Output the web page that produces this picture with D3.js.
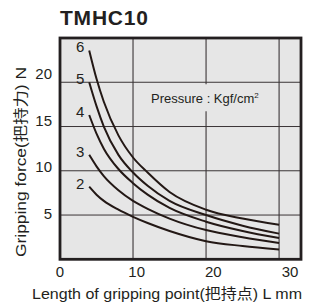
<!DOCTYPE html>
<html>
<head>
<meta charset="utf-8">
<script src="https://cdn.jsdelivr.net/npm/d3@7"></script>
<style>
  body { margin: 0; background: #fff; }
  text { font-family: "Liberation Sans", Arial, "Noto Sans CJK SC", sans-serif; fill: #231f20; }
</style>
</head>
<body>
<div id="chart"></div>
<script>
// Data (L in mm, force in N)
const lengths = [4, 5, 6, 8, 10, 12, 15, 20, 25, 30];
const pressures = [6, 5, 4, 3, 2];
const force6 = [23.6, 20.4, 17.8, 14.0, 11.5, 9.8, 7.6, 5.6, 4.6, 3.9];
const force5 = [20.0, 17.3, 15.0, 11.8, 9.8, 8.3, 6.6, 5.0, 3.8, 2.9];
const force4 = [16.3, 14.2, 12.5, 10.2, 8.6, 7.3, 5.8, 4.25, 3.2, 2.4];
const force3 = [11.8, 10.5, 9.4, 7.8, 6.6, 5.7, 4.6, 3.3, 2.5, 1.85];
const force2 = [8.2, 7.3, 6.6, 5.6, 4.8, 4.1, 3.2, 2.05, 1.5, 1.1];
const xTicks = [0, 10, 20, 30];
const yTicks = [5, 10, 15, 20];

const series = [force6, force5, force4, force3, force2].map((vals, i) => ({
  label: pressures[i],
  points: vals.map((v, j) => [lengths[j], v])
}));

const W = 310, H = 308;
const svg = d3.select("#chart").append("svg")
  .attr("width", W)
  .attr("height", H);

const x = d3.scaleLinear().domain([0, 33]).range([60, 301]);
const y = d3.scaleLinear().domain([0, 25]).range([259.3, 38]);

// tick labels in the original drift slightly from the grid
const xLab = d3.scaleLinear().domain([0, 30]).range([60, 290]);
const yLab = d3.scaleLinear().domain([5, 20]).range([y(5) - 1, y(20) - 8]);

// Title
svg.append("text")
  .attr("x", 60)
  .attr("y", 25)
  .style("font-size", "21px")
  .style("font-weight", "bold")
  .attr("textLength", 88)
  .attr("lengthAdjust", "spacing")
  .text("TMHC10");

// Plot background
svg.append("rect")
  .attr("x", x(0))
  .attr("y", y(25))
  .attr("width", x(33) - x(0))
  .attr("height", y(0) - y(25))
  .attr("fill", "#e6e6e6");

// Grid
const grid = svg.append("g");
grid.selectAll(".vline")
  .data([10, 20, 30])
  .enter().append("line")
  .attr("x1", d => x(d)).attr("x2", d => x(d))
  .attr("y1", y(25)).attr("y2", y(0))
  .attr("stroke", "#2a2426")
  .attr("stroke-width", 1);
grid.selectAll(".hline")
  .data(yTicks)
  .enter().append("line")
  .attr("x1", x(0)).attr("x2", x(33))
  .attr("y1", d => y(d)).attr("y2", d => y(d))
  .attr("stroke", "#3a3436")
  .attr("stroke-width", 1);

// Pressure note (with a box that hides the grid behind it)
svg.append("rect")
  .attr("x", 148)
  .attr("y", y(20) + 2)
  .attr("width", 118)
  .attr("height", 27)
  .attr("fill", "#e6e6e6");
const note = svg.append("text")
  .attr("x", 151)
  .attr("y", 103)
  .style("font-size", "13px");
note.append("tspan").text("Pressure : Kgf/cm");
note.append("tspan")
  .attr("dy", -5)
  .style("font-size", "8px")
  .text("2");

// Curves
const line = d3.line()
  .x(d => x(d[0]))
  .y(d => y(d[1]))
  .curve(d3.curveMonotoneX);

svg.selectAll(".curve")
  .data(series)
  .enter().append("path")
  .attr("d", d => line(d.points))
  .attr("fill", "none")
  .attr("stroke", "#231815")
  .attr("stroke-width", 2);

svg.selectAll(".clabel")
  .data(series)
  .enter().append("text")
  .attr("x", d => x(d.points[0][0]) - 9)
  .attr("y", d => y(d.points[0][1]) + 2)
  .attr("text-anchor", "middle")
  .style("font-size", "15px")
  .text(d => d.label);

// Frame
svg.append("rect")
  .attr("x", x(0))
  .attr("y", y(25))
  .attr("width", x(33) - x(0))
  .attr("height", y(0) - y(25))
  .attr("fill", "none")
  .attr("stroke", "#231f20")
  .attr("stroke-width", 2.8);

// Tick labels
svg.selectAll(".xt")
  .data(xTicks)
  .enter().append("text")
  .attr("x", d => xLab(d))
  .attr("y", 277)
  .attr("text-anchor", "middle")
  .style("font-size", "15px")
  .text(d => d);

svg.selectAll(".yt")
  .data(yTicks)
  .enter().append("text")
  .attr("x", 52)
  .attr("y", d => yLab(d) + 5)
  .attr("text-anchor", "end")
  .style("font-size", "15px")
  .text(d => d);

// Axis titles
svg.append("text")
  .attr("x", 32)
  .attr("y", 299)
  .attr("textLength", 270)
  .attr("lengthAdjust", "spacingAndGlyphs")
  .style("font-size", "14.5px")
  .text("Length of gripping point(把持点) L mm");

svg.append("text")
  .attr("transform", "translate(26,257) rotate(-90)")
  .attr("textLength", 190)
  .attr("lengthAdjust", "spacingAndGlyphs")
  .style("font-size", "14.5px")
  .text("Gripping force(把持力) N");
</script>
</body>
</html>
